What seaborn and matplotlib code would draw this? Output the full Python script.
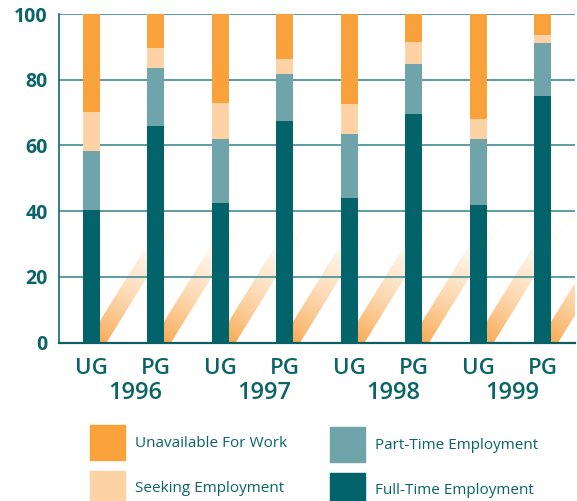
import numpy as np
import pandas as pd
import seaborn as sns
import matplotlib.pyplot as plt
from matplotlib.patches import Polygon, Patch
from matplotlib.transforms import blended_transform_factory

# data (percent of graduates)
levels = ['UG', 'PG', 'UG', 'PG', 'UG', 'PG', 'UG', 'PG']
years = ['1996', '1997', '1998', '1999']
full_time = [40.2, 65.8, 42.6, 67.3, 44.1, 69.7, 42.0, 74.9]
part_time = [18.2, 17.9, 19.5, 14.3, 19.5, 15.0, 20.1, 16.2]
seeking = [11.9, 6.1, 10.7, 4.6, 8.9, 6.7, 5.8, 2.4]
unavailable = [29.7, 10.2, 27.2, 13.8, 27.5, 8.6, 32.1, 6.5]

c_unav = '#f9a13a'
c_seek = '#fdd3a5'
c_part = '#6fa5aa'
c_full = '#02646a'
c_text = '#0b6468'
c_grid = '#4f9599'

df = pd.DataFrame({
    'cat': [f'{l} {y}' for y in years for l in ('UG', 'PG')],
    'full': full_time, 'part': part_time,
    'seek': seeking, 'unav': unavailable,
})
df['top_part'] = df['full'] + df['part']
df['top_seek'] = df['top_part'] + df['seek']
df['top_unav'] = df['top_seek'] + df['unav']

sns.set_style('white')
plt.rcParams['font.family'] = ['Open Sans', 'DejaVu Sans']

fig = plt.figure(figsize=(5.77, 5.01), dpi=100)
ax = fig.add_axes([59 / 577, 158.5 / 501, 516 / 577, 328.5 / 501])

bw = 0.264
for col, colour in [('top_unav', c_unav), ('top_seek', c_seek),
                    ('top_part', c_part), ('full', c_full)]:
    sns.barplot(data=df, x='cat', y=col, color=colour, width=bw,
                saturation=1, ax=ax, zorder=3, linewidth=0)

# decorative fading stripes behind the bars
ny, nx = 100, 40
yy, xx = np.mgrid[0:1:ny * 1j, 0:1:nx * 1j]
grad = np.zeros((ny, nx, 4))
grad[..., :3] = np.array([249, 165, 72]) / 255
grad[..., 3] = np.clip((1 - yy) ** 1.2 * (1 - 0.55 * xx) * 1.0, 0, 1)
for i in range(len(df)):
    x0, x1 = i - 0.07, i + 1.37
    poly = Polygon([(x0, 0), (i + 0.24, 0), (x1, 36), (i + 1.06, 36)],
                   closed=True, facecolor='none', edgecolor='none')
    ax.add_patch(poly)
    im = ax.imshow(grad, extent=[x0, x1, 0, 36], origin='lower',
                   aspect='auto', zorder=0.5, interpolation='bilinear')
    im.set_clip_path(poly)

ax.set_xlim(-0.5, len(df) - 0.5)
ax.set_ylim(0, 100)
ax.set_xlabel('')
ax.set_ylabel('')

ax.set_yticks([0, 20, 40, 60, 80, 100])
ax.set_yticklabels(['0', '20', '40', '60', '80', '100'], fontsize=14,
                   fontweight='bold', color=c_text)
ax.tick_params(axis='y', length=0, pad=8)
ax.yaxis.grid(True, color=c_grid, linewidth=1.3, zorder=1)
ax.set_axisbelow(True)

ax.set_xticks(range(len(df)))
ax.set_xticklabels(levels, fontsize=16, color=c_text, fontweight='semibold')
ax.tick_params(axis='x', length=0, pad=11)
ax.set_xticks(np.arange(len(df)) + 0.5, minor=True)
ax.tick_params(axis='x', which='minor', direction='in', length=4,
               width=1, color='#3a8a95')

trans = blended_transform_factory(ax.transData, ax.transAxes)
year_shift = [0.18, 0.18, 0.19, 0.02]
for k, yr in enumerate(years):
    ax.text(2 * k + 0.5 + year_shift[k], -0.155, yr, transform=trans,
            ha='center', va='center', fontsize=17, color=c_text,
            fontweight='semibold')

for side in ('top', 'right'):
    ax.spines[side].set_visible(False)
ax.spines['left'].set_color('#0d6b6d')
ax.spines['left'].set_linewidth(1.2)
ax.spines['bottom'].set_color('#0d5e60')
ax.spines['bottom'].set_linewidth(1.6)

# legend, two columns placed separately
kw = dict(frameon=False, fontsize=11, handlelength=2.3, handleheight=3.1,
          handletextpad=0.65, labelspacing=0.72, borderpad=0,
          borderaxespad=0, loc='upper left', labelcolor=c_text)
fig.legend(handles=[Patch(color=c_unav, label='Unavailable For Work'),
                    Patch(color=c_seek, label='Seeking Employment')],
           bbox_to_anchor=(90 / 577, 76 / 501), **kw)
fig.legend(handles=[Patch(color=c_part, label='Part-Time Employment'),
                    Patch(color=c_full, label='Full-Time Employment')],
           bbox_to_anchor=(330 / 577, 74 / 501), **kw)

fig.savefig('out.png', dpi=100)
